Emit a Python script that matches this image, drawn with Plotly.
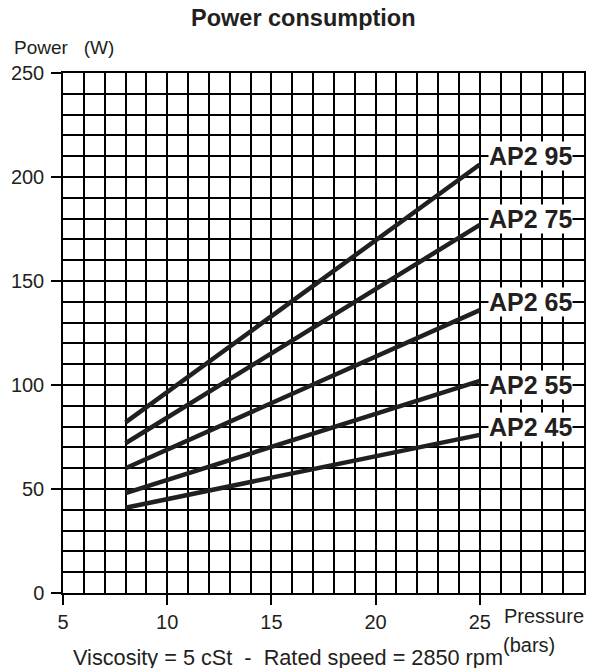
import plotly.graph_objects as go

# Data
pressure = [8, 25]
series_names = ["AP2 45", "AP2 55", "AP2 65", "AP2 75", "AP2 95"]
ap2_45 = [41, 76]
ap2_55 = [48, 102]
ap2_65 = [60, 136]
ap2_75 = [72, 177]
ap2_95 = [82, 206]
label_y = [80, 100, 140, 180, 210]

x_ticks = [5, 10, 15, 20, 25]
y_ticks = [0, 50, 100, 150, 200, 250]

FONT = "Liberation Sans, Arial, sans-serif"
INK = "#231f20"

W, H = 606, 669
L, R, T, B = 63, 22, 73, 76
pw, ph = W - L - R, H - T - B


def px_x(p):
    return (p - L) / pw


def px_y(p):
    return (H - B - p) / ph


fig = go.Figure()
for name, vals in zip(series_names, [ap2_45, ap2_55, ap2_65, ap2_75, ap2_95]):
    fig.add_trace(go.Scatter(x=pressure, y=vals, mode="lines", name=name,
                             line=dict(color=INK, width=4.5), showlegend=False,
                             hoverinfo="skip"))

for name, ly in zip(series_names, label_y):
    fig.add_annotation(x=25.39, y=ly, xref="x", yref="y", text="<b>%s</b>" % name,
                       showarrow=False, xanchor="left", yanchor="middle",
                       bgcolor="white", borderpad=0,
                       font=dict(family=FONT, size=25, color=INK))

grid = dict(showgrid=True, gridcolor="black", gridwidth=1.5)
fig.update_xaxes(range=[5, 30], tickmode="array", tickvals=x_ticks, automargin=False,
                 ticks="outside", ticklen=10, tickwidth=1.5, tickcolor="black",
                 showline=True, mirror=True, linecolor="black", linewidth=1.5,
                 zeroline=False, **grid,
                 minor=dict(tickmode="linear", tick0=0, dtick=1, showgrid=True,
                            gridcolor="black", gridwidth=1.5, ticks=""),
                 tickfont=dict(family=FONT, size=20, color=INK))
fig.update_yaxes(range=[0, 250], tickmode="array", tickvals=y_ticks, automargin=False,
                 ticks="outside", ticklen=10, tickwidth=1.5, tickcolor="black",
                 showline=True, mirror=True, linecolor="black", linewidth=1.5,
                 zeroline=False, **grid, ticklabelstandoff=3,
                 minor=dict(tickmode="linear", tick0=0, dtick=10, showgrid=True,
                            gridcolor="black", gridwidth=1.5, ticks=""),
                 tickfont=dict(family=FONT, size=20, color=INK))

texts = [
    ("<b>Power consumption</b>", px_x(303), px_y(18.5), "center", 23.5, 24),
    ("Power   (W)", px_x(12), px_y(47.5), "left", 19, None),
    ("Pressure", px_x(502), px_y(616), "left", 20, None),
    ("(bars)", px_x(501), px_y(645), "left", 20, None),
    ("Viscosity = 5 cSt  -  Rated speed = 2850 rpm", px_x(288), px_y(657), "center", 21.7, 22),
]
for t, x, y, xa, s, h in texts:
    fig.add_annotation(x=x, y=y, xref="paper", yref="paper", text=t, showarrow=False,
                       xanchor=xa, yanchor="middle", height=h,
                       font=dict(family=FONT, size=s, color=INK))

fig.update_layout(width=W, height=H, autosize=False,
                  margin=dict(l=L, r=R, t=T, b=B),
                  paper_bgcolor="white", plot_bgcolor="white",
                  font=dict(family=FONT, color=INK))

fig.write_html("out.html", config={"displayModeBar": False},
               post_script="document.body.style.margin='0';document.body.style.overflow='hidden';")
